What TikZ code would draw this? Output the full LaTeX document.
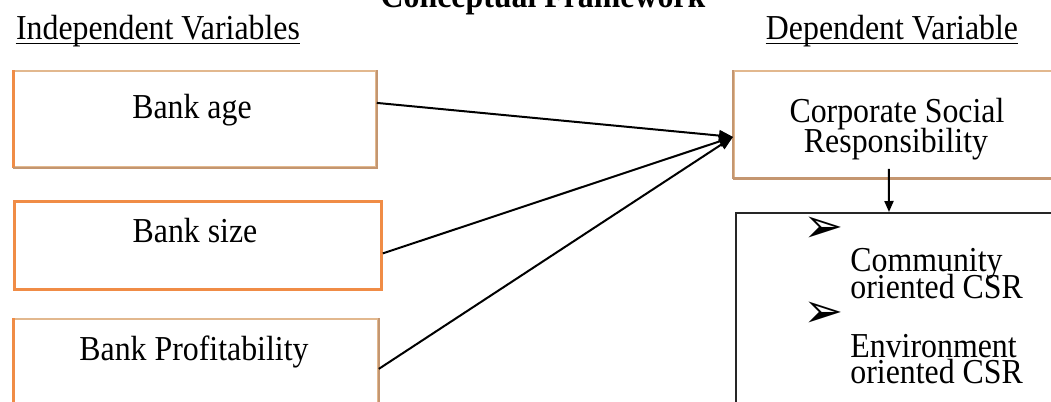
\documentclass[tikz,border=0pt]{standalone}
\usepackage{fontspec}
\setmainfont{Liberation Serif}[FakeStretch=0.91]
\newfontfamily\dingfont{DejaVu Sans}
\usetikzlibrary{arrows.meta}
\definecolor{tanedge}{RGB}{226,184,142}
\definecolor{orng}{RGB}{240,140,70}
\definecolor{brownedge}{RGB}{196,150,112}
\begin{document}
\begin{tikzpicture}[x=0.5pt,y=-0.5pt,
  font=\fontsize{17.5}{19}\selectfont,
  box/.style={draw=tanedge, line width=0.9pt, fill=white, anchor=north west, inner sep=0pt},
  lbl/.style={anchor=base, inner sep=0pt},
  link/.style={line width=1pt, -{Triangle[length=7pt,width=5.5pt]}},
  bul/.style={anchor=north west, inner sep=0pt, font=\dingfont\fontsize{24}{24}\selectfont}]
\useasboundingbox (0,0) rectangle (1051,402);
\clip (0,0) rectangle (1051,402);
% headings
\node[lbl, font=\fontsize{17.5}{19}\selectfont\bfseries] (title) at (543,7) {Conceptual Framework};
\node[lbl] (ind) at (158,39) {Independent Variables};
\node[lbl] (dep) at (892,39) {Dependent Variable};
\draw[line width=0.6pt] ([yshift=-2.4pt]ind.base west) -- ([yshift=-2.4pt]ind.base east);
\draw[line width=0.6pt] ([yshift=-2.4pt]dep.base west) -- ([yshift=-2.4pt]dep.base east);
% boxes
\node[box, minimum width=181pt, minimum height=48pt] (a1) at (13,70) {};
\node[box, draw=orng, line width=1.4pt, minimum width=183.5pt, minimum height=44pt] (a2) at (13,200) {};
\node[box, minimum width=182pt, minimum height=46pt] (a3) at (13,318) {};
\node[box, minimum width=168.5pt, minimum height=53.5pt] (csr) at (733,70) {};
\node[box, draw=black!85, line width=1pt, minimum width=170pt, minimum height=110pt] (out) at (735,212) {};
% accent edges
\draw[orng, line width=1.5pt] (a1.north west) -- (a1.south west);
\draw[orng, line width=1.5pt] (a3.north west) -- (a3.south west);
\draw[brownedge, line width=0.8pt] (a1.north east) -- (a1.south east) -- (a1.south west);
\draw[brownedge, line width=0.8pt] (a3.north east) -- (a3.south east);
\draw[brownedge, line width=1.5pt] (csr.south west) -- (csr.south east);
\draw[brownedge, line width=0.8pt] (csr.north west) -- (csr.south west);
% texts
\node[lbl] (t1) at (192,118) {Bank age};
\node[lbl] (t2) at (195,242) {Bank size};
\node[lbl] (t3) at (194,360) {Bank Profitability};
\node[lbl] (c1) at (897,122) {Corporate Social};
\node[lbl] (c2) at (896,152) {Responsibility};
\node[bul] (b1) at (803,217) {➢};
\node[lbl, anchor=base west] (l1) at (850,271) {Community};
\node[lbl, anchor=base west] (l2) at (850,298) {oriented CSR};
\node[bul] (b2) at (803,302) {➢};
\node[lbl, anchor=base west] (l3) at (850,357) {Environment};
\node[lbl, anchor=base west] (l4) at (850,383) {oriented CSR};
% connectors
\coordinate (tip) at ([yshift=-6.25pt]csr.west);
\draw[link] ([yshift=8pt]a1.east) -- (tip);
\draw[link] ([yshift=-4pt]a2.east) -- (tip);
\draw[link] ([yshift=-2pt]a3.east) -- (tip);
\draw[line width=1pt, -{Triangle[length=5.5pt,width=4.5pt]}] ([xshift=-6.75pt,yshift=5pt]csr.south) -- ([xshift=-8.5pt]out.north);
\end{tikzpicture}
\end{document}
